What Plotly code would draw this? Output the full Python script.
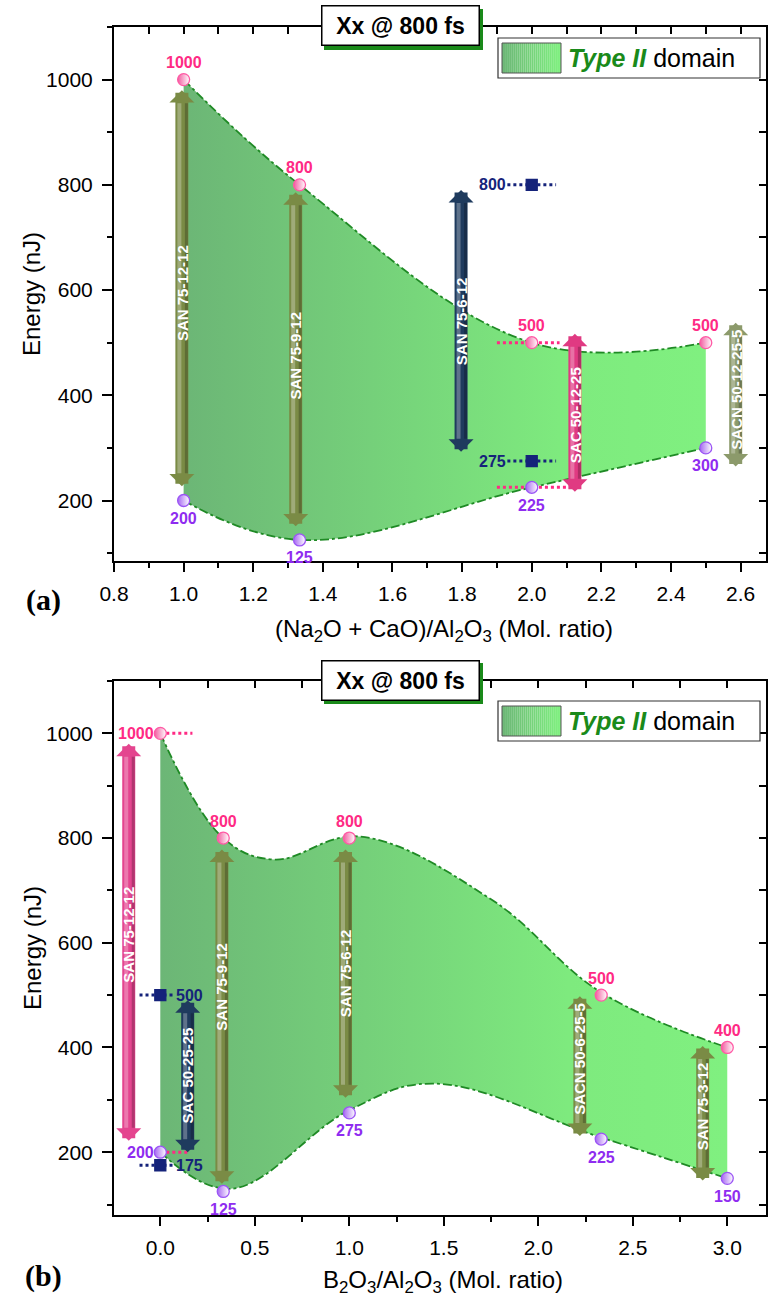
import plotly.graph_objects as go

# ---------------- data: panel (a) ----------------
a_x = [1.0, 1.333, 2.0, 2.5]
a_upper = [1000, 800, 500, 500]
a_lower = [200, 125, 225, 300]
a_upper_labels = ["1000", "800", "500", "500"]
a_lower_labels = ["200", "125", "225", "300"]
a_sq_x = [2.0, 2.0]
a_sq_y = [800, 275]
a_sq_labels = ["800", "275"]

a_arrow_names = ["SAN 75-12-12", "SAN 75-9-12", "SAN 75-6-12", "SAC 50-12-25", "SACN 50-12-25-5"]
a_arrow_x = [0.995, 1.322, 1.797, 2.124, 2.586]
a_arrow_top = [980, 786, 790, 517, 538]
a_arrow_bottom = [224, 148, 290, 214, 262]
a_arrow_label_y = [594, 475, 541, 362, 410]

# ---------------- data: panel (b) ----------------
b_x = [0.0, 0.333, 1.0, 2.333, 3.0]
b_upper = [1000, 800, 800, 500, 400]
b_lower = [200, 125, 275, 225, 150]
b_upper_labels = ["1000", "800", "800", "500", "400"]
b_lower_labels = ["200", "125", "275", "225", "150"]
b_sq_x = [0.0, 0.0]
b_sq_y = [500, 175]
b_sq_labels = ["500", "175"]
# domain edges of panel (b)
b_edge_up_x = [0.0, 0.333, 0.6, 1.05, 1.75, 2.333, 3.0]
b_edge_up_y = [1000, 800, 759, 803, 683, 505, 400]
b_edge_lo_x = [0.0, 0.37, 1.0, 1.44, 2.333, 3.0]
b_edge_lo_y = [200, 130, 280, 331, 228, 150]

b_arrow_names = ["SAN 75-12-12", "SAC 50-25-25", "SAN 75-9-12", "SAN 75-6-12", "SACN 50-6-25-5", "SAN 75-3-12"]
b_arrow_x = [-0.167, 0.145, 0.326, 0.98, 2.22, 2.87]
b_arrow_top = [980, 490, 778, 778, 498, 403]
b_arrow_bottom = [219, 197, 137, 301, 228, 143]
b_arrow_label_y = [615, 346, 516, 541, 378, 287]

x_ticks_a = [0.8, 1.0, 1.2, 1.4, 1.6, 1.8, 2.0, 2.2, 2.4, 2.6]
x_ticks_b = [0.0, 0.5, 1.0, 1.5, 2.0, 2.5, 3.0]
y_ticks = [200, 400, 600, 800, 1000]

# ---------------- styles ----------------
OLIVE = "#7a8b45"
SAGE = "#8c9a6b"
NAVYA = "#1f3b5e"
PINKA = "#e03a82"
a_arrow_colors = [OLIVE, OLIVE, NAVYA, PINKA, SAGE]
b_arrow_colors = ["#e4458f", NAVYA, OLIVE, OLIVE, OLIVE, OLIVE]
a_upper_pos = ["above", "above", "above", "above"]
a_lower_pos = ["below", "below", "below", "below"]
b_upper_pos = ["left", "above", "above", "above", "above"]
b_lower_pos = ["left", "below", "below", "below", "below"]

W, H = 769, 1302
L, R, T, B = 114, 766, 27, 1215
PLOT_W = R - L
PANEL_H = 534


def px_x(p):
    return (p - L) / (R - L)


def px_y(p):
    return (B - p) / (B - T)


FILL_SCALE = [[0, "#6cb676"], [0.72, "#7eea7e"], [1, "#80f080"]]
EDGE = "#1f8a25"
PINK = "#ff2a84"
PINK_M = "#f25a9f"
PURPLE = "#8f2cf0"
PURPLE_M = "#a565f2"
NAVY = "#15237a"
NUM_FONT = "Liberation Sans Narrow, Arial Narrow, Liberation Sans, Arial, sans-serif"
AX_FONT = "Liberation Sans, Arial, sans-serif"

RA = [0.8, 2.673]
RB = [-0.245, 3.205]
RYA = [85, 1100]
RYB = [80, 1100]

fig = go.Figure()


def add_band(xl, lower, xu, upper, xa, ya):
    edge = dict(shape="spline", smoothing=1.1, color=EDGE, width=1.8, dash="dashdot")
    fig.add_trace(go.Scatter(x=xl, y=lower, mode="lines", line=edge, xaxis=xa, yaxis=ya,
                             hoverinfo="skip", showlegend=False))
    fig.add_trace(go.Scatter(x=xu, y=upper, mode="lines", line=edge, fill="tonexty",
                             fillgradient=dict(type="horizontal", colorscale=FILL_SCALE),
                             xaxis=xa, yaxis=ya, hoverinfo="skip", showlegend=False))


def add_dots(x0s, x1s, ys, color, xa, ya):
    for x0, x1, y in zip(x0s, x1s, ys):
        fig.add_trace(go.Scatter(x=[x0, x1], y=[y, y], mode="lines",
                                 line=dict(color=color, width=3, dash="dot"),
                                 xaxis=xa, yaxis=ya, hoverinfo="skip", showlegend=False))


def add_markers(xs, ys, fillc, edgec, symbol, xa, ya, size=12, grad=True):
    mk = dict(symbol=symbol, size=size, color=fillc, line=dict(color=edgec, width=1.3))
    if grad:
        mk["gradient"] = dict(type="horizontal", color="white")
    fig.add_trace(go.Scatter(x=xs, y=ys, mode="markers", marker=mk, xaxis=xa, yaxis=ya,
                             hoverinfo="skip", showlegend=False))


def add_labels(xs, ys, texts, color, xa, ya, pos):
    for x, y, t, p in zip(xs, ys, texts, pos):
        kw = dict(above=dict(yshift=17), below=dict(yshift=-18),
                  left=dict(xanchor="right", xshift=-4),
                  right=dict(xanchor="left", xshift=6))[p]
        fig.add_annotation(x=x, y=y, xref=xa, yref=ya, text=f"<b>{t}</b>", showarrow=False,
                           font=dict(family=NUM_FONT, size=16, color=color), **kw)


def add_arrows(xs, tops, bots, names, label_ys, colors, xa, ya, xr, yr):
    dx = (xr[1] - xr[0]) / PLOT_W      # data units per pixel (x)
    dy = (yr[1] - yr[0]) / PANEL_H     # data units per pixel (y)
    for x, t, b, n, ly, c in zip(xs, tops, bots, names, label_ys, colors):
        fig.add_annotation(x=x, y=t, ax=x, ay=b, xref=xa, yref=ya, axref=xa, ayref=ya,
                           text="", showarrow=True, arrowhead=1, startarrowhead=1,
                           arrowside="end+start", arrowsize=0.32, startarrowsize=0.32,
                           arrowwidth=13, arrowcolor=c, standoff=0, startstandoff=0)
        # cylinder shading of the shaft: light stripe left, dark stripe right
        for off, w, col in ((-2.5, 4, "rgba(255,255,255,0.28)"), (4.5, 3, "rgba(0,0,0,0.22)")):
            fig.add_annotation(x=x + off * dx, y=t - 13 * dy, ax=x + off * dx, ay=b + 13 * dy,
                               xref=xa, yref=ya, axref=xa, ayref=ya, text="", showarrow=True,
                               arrowhead=0, arrowwidth=w, arrowcolor=col, standoff=0,
                               startstandoff=0)
        fig.add_annotation(x=x, y=ly, xref=xa, yref=ya, text=f"<b>{n}</b>", textangle=-90,
                           showarrow=False, font=dict(family=AX_FONT, size=15, color="white"))


# ---------- panel (a) ----------
add_band(a_x, a_lower, a_x, a_upper, "x", "y")
add_dots([1.90, 1.90], [2.08, 2.10], [500, 225], PINK, "x", "y")
add_dots([1.93, 1.93], [2.07, 2.07], a_sq_y, NAVY, "x", "y")
add_markers(a_x, a_upper, PINK_M, "#ff5aa5", "circle", "x", "y")
add_markers(a_x, a_lower, PURPLE_M, "#9b55f5", "circle", "x", "y")
add_markers(a_sq_x, a_sq_y, NAVY, NAVY, "square", "x", "y", size=11, grad=False)
add_labels(a_x, a_upper, a_upper_labels, PINK, "x", "y", a_upper_pos)
add_labels(a_x, a_lower, a_lower_labels, PURPLE, "x", "y", a_lower_pos)
for x, y, t in zip(a_sq_x, a_sq_y, a_sq_labels):
    fig.add_annotation(x=x, y=y, xref="x", yref="y", text=f"<b>{t}</b>", showarrow=False,
                       xanchor="right", xshift=-24,
                       font=dict(family=NUM_FONT, size=16, color=NAVY))
add_arrows(a_arrow_x, a_arrow_top, a_arrow_bottom, a_arrow_names, a_arrow_label_y,
           a_arrow_colors, "x", "y", RA, RYA)

# ---------- panel (b) ----------
add_band(b_edge_lo_x, b_edge_lo_y, b_edge_up_x, b_edge_up_y, "x2", "y2")
add_dots([0.0, 0.0], [0.17, 0.15], [1000, 200], PINK, "x2", "y2")
add_dots([-0.11, -0.11], [0.07, 0.07], b_sq_y, NAVY, "x2", "y2")
add_markers(b_x, b_upper, PINK_M, "#ff5aa5", "circle", "x2", "y2")
add_markers(b_x, b_lower, PURPLE_M, "#9b55f5", "circle", "x2", "y2")
add_markers(b_sq_x, b_sq_y, NAVY, NAVY, "square", "x2", "y2", size=11, grad=False)
add_labels(b_x, b_upper, b_upper_labels, PINK, "x2", "y2", b_upper_pos)
add_labels(b_x, b_lower, b_lower_labels, PURPLE, "x2", "y2", b_lower_pos)
for x, y, t in zip(b_sq_x, b_sq_y, b_sq_labels):
    fig.add_annotation(x=x, y=y, xref="x2", yref="y2", text=f"<b>{t}</b>", showarrow=False,
                       xanchor="left", xshift=14,
                       font=dict(family=NUM_FONT, size=16, color=NAVY))
add_arrows(b_arrow_x, b_arrow_top, b_arrow_bottom, b_arrow_names, b_arrow_label_y,
           b_arrow_colors, "x2", "y2", RB, RYB)

# dummy traces for the mirrored (top/right) axes
fig.add_trace(go.Scatter(x=[None], y=[None], xaxis="x3", yaxis="y3", showlegend=False))
fig.add_trace(go.Scatter(x=[None], y=[None], xaxis="x4", yaxis="y4", showlegend=False))

# ---------- axes ----------
base = dict(showline=True, linecolor="black", linewidth=2, showgrid=False, zeroline=False,
            tickcolor="black", tickwidth=1.8, automargin=False,
            tickfont=dict(family=AX_FONT, size=21, color="black"))
minor_out = lambda d: dict(dtick=d, ticks="outside", ticklen=5, tickcolor="black", tickwidth=1.5)
dom_a = [px_y(561), 1]
dom_b = [0, px_y(681)]

fig.update_layout(
    template="none",
    width=W, height=H, plot_bgcolor="white", paper_bgcolor="white",
    margin=dict(l=L, r=W - R, t=T, b=H - B, autoexpand=False), showlegend=False, hovermode=False,
    xaxis=dict(domain=[0, 1], anchor="y", range=RA, tickmode="array", tickvals=x_ticks_a,
               ticktext=[f"{v:.1f}" for v in x_ticks_a], ticks="outside", ticklen=9,
               minor=minor_out(0.1), ticklabelstandoff=4, **base),
    yaxis=dict(domain=dom_a, anchor="x", range=RYA, tickmode="array", tickvals=y_ticks,
               ticks="outside", ticklen=10, minor=minor_out(100), ticklabelstandoff=5, **base),
    xaxis3=dict(overlaying="x", side="top", anchor="y", range=RA, dtick=0.1, tick0=0.8,
                ticks="inside", ticklen=7, showticklabels=False, **base),
    yaxis3=dict(overlaying="y", side="right", anchor="x", range=RYA, dtick=100, tick0=0,
                ticks="inside", ticklen=7, showticklabels=False, **base),
    xaxis2=dict(domain=[0, 1], anchor="y2", range=RB, tickmode="array", tickvals=x_ticks_b,
                ticktext=[f"{v:.1f}" for v in x_ticks_b], ticks="outside", ticklen=9,
                minor=minor_out(0.25), ticklabelstandoff=4, **base),
    yaxis2=dict(domain=dom_b, anchor="x2", range=RYB, tickmode="array", tickvals=y_ticks,
                ticks="outside", ticklen=10, minor=minor_out(100), ticklabelstandoff=5, **base),
    xaxis4=dict(overlaying="x2", side="top", anchor="y2", range=RB, dtick=0.25, tick0=0,
                ticks="inside", ticklen=7, showticklabels=False, **base),
    yaxis4=dict(overlaying="y2", side="right", anchor="x2", range=RYB, dtick=100, tick0=0,
                ticks="inside", ticklen=7, showticklabels=False, **base),
)

# ---------- decorations: title boxes, legends, axis titles ----------
shapes = []


def paper_note(px, py, text, font, **kw):
    fig.add_annotation(xref="paper", yref="paper", x=px_x(px), y=px_y(py), showarrow=False,
                       text=text, font=font, xanchor=kw.pop("xanchor", "center"),
                       yanchor=kw.pop("yanchor", "middle"), **kw)


def title_box(cy):
    for shadow in (True, False):
        paper_note(400, cy, " " if shadow else "<b>Xx @ 800 fs</b>",
                   dict(family=AX_FONT, size=23, color="black"),
                   width=150, height=32, borderpad=3,
                   bgcolor="#1a8a1a" if shadow else "white",
                   bordercolor="#1a8a1a" if shadow else "black", borderwidth=1.5,
                   xshift=3.5 if shadow else 0, yshift=-3.5 if shadow else 0)


def legend_box(top):
    shapes.append(dict(type="rect", xref="paper", yref="paper", x0=px_x(498), x1=px_x(760),
                       y0=px_y(top + 40), y1=px_y(top), fillcolor="white",
                       line=dict(color="#333333", width=1.2)))
    n = 30
    c0 = (0x6c, 0xb6, 0x76)
    c1 = (0x80, 0xf0, 0x80)
    for i in range(n):
        f = i / (n - 1)
        col = "rgb({},{},{})".format(*[round(a + (b - a) * f) for a, b in zip(c0, c1)])
        shapes.append(dict(type="rect", xref="paper", yref="paper",
                           x0=px_x(502 + 59 * i / n), x1=px_x(502 + 59 * (i + 1) / n),
                           y0=px_y(top + 35), y1=px_y(top + 5), fillcolor=col,
                           line=dict(width=0)))
    shapes.append(dict(type="rect", xref="paper", yref="paper", x0=px_x(502), x1=px_x(561),
                       y0=px_y(top + 35), y1=px_y(top + 5), line=dict(color="#555555", width=1)))
    paper_note(566, top + 20,
               '<span style="color:#1a8a1a"><b><i>Type II</i></b></span> domain',
               dict(family=AX_FONT, size=25, color="black"), xanchor="left")


title_box(26)
title_box(680)
legend_box(38)
legend_box(701)

for cy in (294, 948):
    paper_note(32, cy, "Energy (nJ)", dict(family=AX_FONT, size=24, color="black"),
               textangle=-90)
paper_note(444, 630, "(Na<sub>2</sub>O + CaO)/Al<sub>2</sub>O<sub>3</sub> (Mol. ratio)",
           dict(family=AX_FONT, size=24, color="black"))
paper_note(443, 1281, "B<sub>2</sub>O<sub>3</sub>/Al<sub>2</sub>O<sub>3</sub> (Mol. ratio)",
           dict(family=AX_FONT, size=24, color="black"))
for lab, cy in (("(a)", 600), ("(b)", 1276)):
    paper_note(43, cy, f"<b>{lab}</b>",
               dict(family="Liberation Serif, Times New Roman, serif", size=30, color="black"))

fig.update_layout(shapes=shapes)
fig.write_html("out.html", config={"displayModeBar": False},
               post_script="document.body.style.margin='0';document.body.style.padding='0';")
